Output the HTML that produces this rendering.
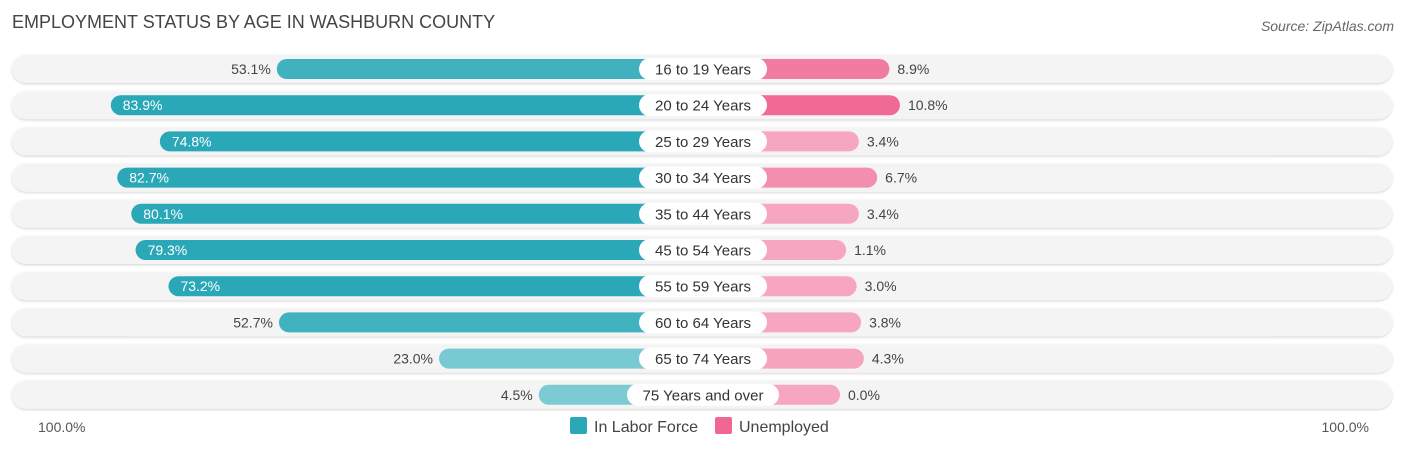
<!DOCTYPE html>
<html><head><meta charset="utf-8">
<style>
body{margin:0;background:#fff;font-family:"Liberation Sans",sans-serif;}
svg text{font-family:"Liberation Sans",sans-serif;}
</style></head>
<body>
<svg id="chart" width="1406" height="451" xmlns="http://www.w3.org/2000/svg">
<defs>
<filter id="sh" x="-5%" y="-30%" width="110%" height="160%"><feDropShadow dx="0" dy="1" stdDeviation="1.2" flood-color="#000" flood-opacity="0.18"/></filter>
</defs>
<text x="12" y="28" font-size="18" fill="#444">EMPLOYMENT STATUS BY AGE IN WASHBURN COUNTY</text>
<text x="1394" y="31" font-size="14" fill="#666" font-style="italic" text-anchor="end">Source: ZipAtlas.com</text>
<g id="rows"></g>
<text x="38" y="432" font-size="14" fill="#555">100.0%</text>
<text x="1369" y="432" font-size="14" fill="#555" text-anchor="end">100.0%</text>
<g>
<rect x="570" y="417" width="17" height="17" rx="2" fill="#2aa8b8"/>
<text x="594" y="432" font-size="16" fill="#444">In Labor Force</text>
<rect x="715" y="417" width="17" height="17" rx="2" fill="#f06892"/>
<text x="739" y="432" font-size="16" fill="#444">Unemployed</text>
</g>
</svg>
<script>
const categories=["16 to 19 Years","20 to 24 Years","25 to 29 Years","30 to 34 Years","35 to 44 Years","45 to 54 Years","55 to 59 Years","60 to 64 Years","65 to 74 Years","75 Years and over"];
const laborForce=[53.1,83.9,74.8,82.7,80.1,79.3,73.2,52.7,23.0,4.5];
const unemployed=[8.9,10.8,3.4,6.7,3.4,1.1,3.0,3.8,4.3,0.0];
const NS="http://www.w3.org/2000/svg";
const cx=703, offL=140, offR=137, lScale=5.39, rScale=5.55, y0=69, dy=36.2;
function lx(v){return cx-offL-v*lScale;}
function rx(v){return cx+offR+v*rScale;}
function mk(t,a,p){const e=document.createElementNS(NS,t);for(const k in a)e.setAttribute(k,a[k]);p.appendChild(e);return e;}
function mix(a,b,t){return "rgb("+a.map((c,i)=>Math.round(c+(b[i]-c)*t)).join(",")+")";}
const g=document.getElementById('rows');
categories.forEach((c,i)=>{
  const y=y0+i*dy;
  const row=mk('g',{},g);
  
  
  const bg=mk('rect',{x:12,y:y-14,width:1380,height:28,rx:14,fill:'#f4f4f4',filter:'url(#sh)'},row);
  
  
  const lv=laborForce[i], uv=unemployed[i];
  const lt=Math.min(1,Math.max(0,(lv-20)/45));
  const lb=mk('rect',{x:lx(lv),y:y-10,width:cx-lx(lv),height:20,rx:10,fill:mix([124,203,212],[42,168,184],lt)},row);
  
  
  const ut=Math.min(1,Math.max(0,(uv-4)/7));
  const ub=mk('rect',{x:cx,y:y-10,width:rx(uv)-cx,height:20,rx:10,fill:mix([246,166,192],[240,104,146],ut)},row);
  
  
  const inside=lv>60;
  const lvt=mk('text',{x:inside?lx(lv)+12:lx(lv)-6,y:y+5,'font-size':14,fill:inside?'#fff':'#444','text-anchor':inside?'start':'end'},row);
  lvt.textContent=lv.toFixed(1)+'%';
  
  
  const uvt=mk('text',{x:rx(uv)+8,y:y+5,'font-size':14,fill:'#444'},row);
  uvt.textContent=uv.toFixed(1)+'%';
  
  
  const w=c.length>14?152:128;
  const pill=mk('rect',{x:cx-w/2,y:y-11,width:w,height:22,rx:11,fill:'#fff'},row);
  
  
  const ct=mk('text',{x:cx,y:y+5.5,'font-size':15,fill:'#333','text-anchor':'middle'},row);
  ct.textContent=c;
  
  
});
</script>
</body></html>
